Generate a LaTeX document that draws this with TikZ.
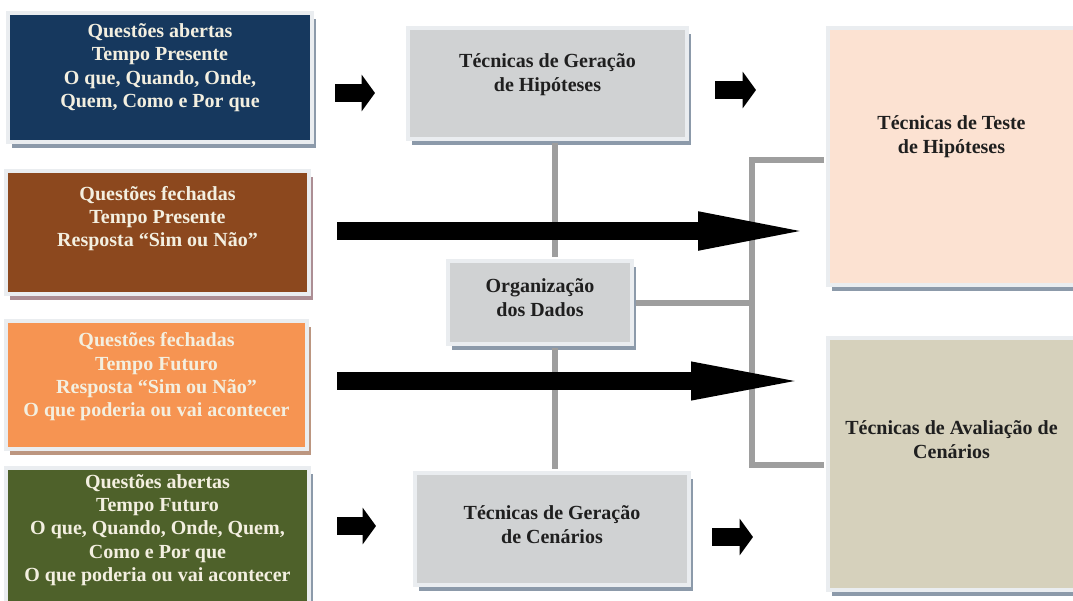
\documentclass[tikz,border=0pt]{standalone}
\usepackage{fontspec}
\setmainfont{Liberation Serif}
\usetikzlibrary{arrows.meta,shadows}

\definecolor{navybox}{RGB}{22,56,94}
\definecolor{brownbox}{RGB}{140,72,30}
\definecolor{orangebox}{RGB}{246,148,82}
\definecolor{greenbox}{RGB}{78,97,42}
\definecolor{graybox}{RGB}{208,210,211}
\definecolor{peachbox}{RGB}{252,226,210}
\definecolor{tanbox}{RGB}{214,209,188}
\definecolor{framecol}{RGB}{234,237,240}
\definecolor{shadowcol}{RGB}{140,154,170}
\definecolor{shadowrose}{RGB}{172,142,148}
\definecolor{shadowtan}{RGB}{188,150,128}
\definecolor{linkcol}{RGB}{158,158,158}
\definecolor{cream}{RGB}{243,239,224}

\begin{document}
\begin{tikzpicture}[x=0.75pt,y=-0.75pt,
    box/.style={rectangle,draw=framecol,line width=3pt,inner sep=0pt,
                drop shadow={shadow xshift=3pt,shadow yshift=-4.5pt,fill=#1,opacity=1}},
    box/.default=shadowcol,
    qtext/.style={align=center,text=cream,font=\bfseries\fontsize{15}{17.5}\selectfont},
    ttext/.style={align=center,text=black!88,font=\bfseries\fontsize{15}{18}\selectfont},
    link/.style={draw=linkcol,line width=4.5pt,shorten <=1.5pt,shorten >=1.5pt},
    bigarrow/.style={line width=13.5pt,-{Triangle[length=90pt,width=25pt]}},
    smallarrow/.style={line width=13.5pt,-{Triangle[length=10pt,width=27pt]}}]

  \useasboundingbox (0,0) rectangle (1073,600);

  % question boxes
  \node[box,fill=navybox,minimum width=228pt,minimum height=96.75pt] (q1) at (160,77.5) {};
  \node[box=shadowrose,fill=brownbox,minimum width=227.25pt,minimum height=92.25pt] (q2) at (157.5,232.5) {};
  \node[box=shadowtan,fill=orangebox,minimum width=225.75pt,minimum height=96pt] (q3) at (156.5,385) {};
  \node[box,fill=greenbox,minimum width=227.25pt,minimum height=102pt] (q4) at (157.5,536) {};

  \node[qtext] (q1t) at ([yshift=7.5pt]q1) {Questões abertas\\Tempo Presente\\O que, Quando, Onde,\\Quem, Como e Por que};
  \node[qtext] (q2t) at ([yshift=10.5pt]q2) {Questões fechadas\\Tempo Presente\\Resposta “Sim ou Não”};
  \node[qtext] (q3t) at ([yshift=6pt]q3) {Questões fechadas\\Tempo Futuro\\Resposta “Sim ou Não”\\O que poderia ou vai acontecer};
  \node[qtext] (q4t) at ([yshift=4.5pt]q4) {Questões abertas\\Tempo Futuro\\O que, Quando, Onde, Quem,\\Como e Por que\\O que poderia ou vai acontecer};

  % technique boxes
  \node[box,fill=graybox,minimum width=209.25pt,minimum height=83.25pt] (hgen) at (547.5,83.5) {};
  \node[box,fill=graybox,minimum width=138pt,minimum height=62.25pt] (orgd) at (540,302.5) {};
  \node[box,fill=graybox,minimum width=205.5pt,minimum height=84pt] (sgen) at (552,529) {};
  \node[box,fill=peachbox,minimum width=185.25pt,minimum height=192.75pt] (teste) at (951.5,156.5) {};
  \node[box,fill=tanbox,minimum width=185.25pt,minimum height=189pt] (aval) at (951.5,464) {};

  \node[ttext] (hgent) at ([yshift=6.5pt]hgen) {Técnicas de Geração\\de Hipóteses};
  \node[ttext] (orgdt) at ([yshift=4pt]orgd) {Organização\\dos Dados};
  \node[ttext] (sgent) at ([yshift=3pt]sgen) {Técnicas de Geração\\de Cenários};
  \node[ttext] (testet) at ([yshift=15pt]teste) {Técnicas de Teste\\de Hipóteses};
  \node[ttext] (avalt) at ([yshift=18pt]aval) {Técnicas de Avaliação de\\Cenários};

  % gray links
  \coordinate (vx) at (555,0);
  \coordinate (bt) at (752,160);
  \coordinate (bb) at (752,465);
  \draw[link] (hgen.south -| vx) -- (orgd.north -| vx);
  \draw[link] (orgd.south -| vx) -- (sgen.north -| vx);
  \draw[link] (orgd.east) -- (orgd.east -| bt);
  \draw[link] (teste.west |- bt) -- (bt) -- (bb) -- (aval.west |- bb);

  % block arrows
  \coordinate (r1) at (0,93);
  \coordinate (r1b) at (0,90);
  \coordinate (r2) at (0,231);
  \coordinate (r3) at (0,381);
  \coordinate (r4) at (0,526);
  \coordinate (r4b) at (0,537);
  \draw[smallarrow,shorten <=15.75pt,shorten >=23.25pt] (q1.east |- r1) -- (hgen.west |- r1);
  \draw[smallarrow,shorten <=19.5pt,shorten >=52.5pt] (hgen.east |- r1b) -- (teste.west |- r1b);
  \draw[bigarrow,shorten <=19.5pt,shorten >=6pt] (q2.east |- r2) -- (teste.west |- r2);
  \draw[bigarrow,line width=13pt,shorten <=21pt,shorten >=11.25pt] (q3.east |- r3) -- (aval.west |- r3);
  \draw[smallarrow,shorten <=19.5pt,shorten >=27.75pt] (q4.east |- r4) -- (sgen.west |- r4);
  \draw[smallarrow,shorten <=15.75pt,shorten >=54.75pt] (sgen.east |- r4b) -- (aval.west |- r4b);
\end{tikzpicture}
\end{document}
